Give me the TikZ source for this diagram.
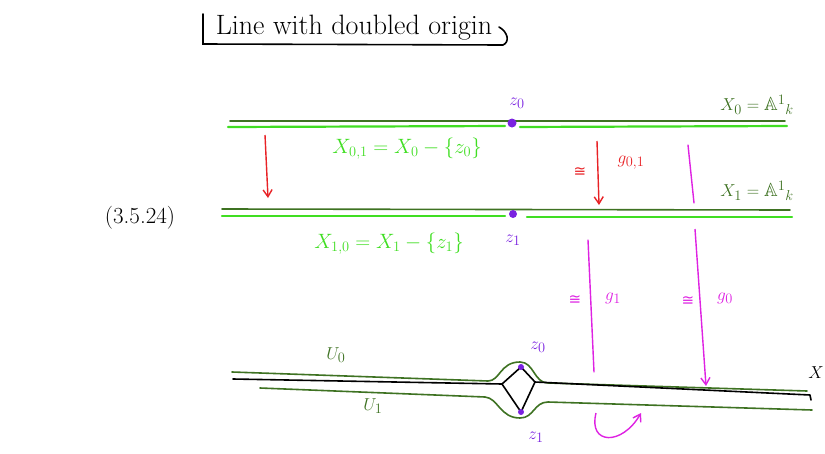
\documentclass[tikz,border=0pt]{standalone}
\usepackage{amsmath}
\usepackage{amssymb}
\usepackage{fontspec}
\usepackage{tikz}
\usetikzlibrary{arrows.meta}
\newfontfamily\isofont{DejaVu Sans}
\definecolor{darkgrn}{RGB}{62,114,34}
\definecolor{litegrn}{RGB}{64,222,34}
\definecolor{ptviolet}{RGB}{122,34,224}
\definecolor{mapmag}{RGB}{222,34,226}
\definecolor{mapred}{RGB}{232,34,38}

\begin{document}
\begin{tikzpicture}[
    x=1pt, y=-1pt,
    every node/.style={font=\fontsize{19}{22}\selectfont},
    biglbl/.style={font=\fontsize{21}{25}\selectfont},
    isolbl/.style={font=\isofont\fontsize{15}{18}\selectfont},
    space/.style={darkgrn, line width=1.6pt, line cap=round},
    open/.style={litegrn, line width=2.2pt, line cap=round},
    glue/.style={black, line width=1.6pt, line cap=round, line join=round},
    pt/.style={circle, fill=ptviolet, inner sep=0pt, minimum size=9pt},
    tinypt/.style={circle, fill=ptviolet, inner sep=0pt, minimum size=6pt},
    map/.style={-{Straight Barb[length=7pt,width=9pt]}, line width=1.4pt},
]
\useasboundingbox (0,0) rectangle (825,453);

%% Titel mit Klammer
\node[font=\fontsize{28}{32}\selectfont] (title) at (354,28) {Line with doubled origin};
\draw[line width=1.6pt, line cap=round] (203,14) -- (203,44) -- (503,45)
    .. controls (510,42) and (508,32) .. (499,27);
\node[font=\fontsize{23}{27}\selectfont] (eqno) at (140,218) {(3.5.24)};

%% obere Geraden X_0, X_1
\draw[space] (230,121) -- (785,121);
\draw[open]  (228,127) -- (505,126);
\draw[open]  (520,127) -- (787,126);
\draw[space] (222,209) -- (790,210);
\draw[open]  (222,216) -- (505,216);
\draw[open]  (527,217) -- (792,217);

\node[pt]     (z0) at (512,123) {};
\node[tinypt, minimum size=8pt] (z1) at (513,214) {};
\node[text=ptviolet] (z0lbl) at (517,103) {$z_0$};
\node[text=ptviolet] (z1lbl) at (513,240) {$z_1$};

\node[text=darkgrn] (X0lbl) at (757,105) {$X_0 = {\mathbb{A}^1}_k$};
\node[text=darkgrn] (X1lbl) at (757,191) {$X_1 = {\mathbb{A}^1}_k$};
\node[text=litegrn, biglbl] (X01lbl) at (407,149) {$X_{0,1} = X_0 - \{z_0\}$};
\node[text=litegrn, biglbl] (X10lbl) at (389,244) {$X_{1,0} = X_1 - \{z_1\}$};

%% Abbildungen
\coordinate (incA) at (265,135);
\coordinate (incB) at (268,198);
\draw[map, mapred] (incA) -- (incB);

\coordinate (g01a) at (597,141);
\coordinate (g01b) at (599,205);
\draw[map, mapred] (g01a) -- (g01b);
\node[text=mapred, isolbl] (iso01) at (580,172) {≅};
\node[text=mapred] (g01lbl) at (631,163) {$g_{0,1}$};

\coordinate (g0top) at (688,145);
\coordinate (g0mid) at (694,203);
\coordinate (g0a) at (695,229);
\coordinate (g0b) at (706,386);
\draw[mapmag, line width=1.4pt, line cap=round] (g0top) -- (g0mid);
\draw[map, mapmag] (g0a) -- (g0b);
\node[text=mapmag, isolbl] (iso0) at (688,301) {≅};
\node[text=mapmag] (g0lbl) at (725,298) {$g_0$};

\coordinate (g1a) at (588,240);
\coordinate (g1b) at (594,372);
\draw[mapmag, line width=1.4pt, line cap=round] (g1a) -- (g1b);
\node[text=mapmag, isolbl] (iso1) at (575,300) {≅};
\node[text=mapmag] (g1lbl) at (613,298) {$g_1$};

%% Gerade mit doppeltem Ursprung
\coordinate (dl) at (502,384);
\coordinate (dt) at (521,367);
\coordinate (dr) at (535,382);
\coordinate (db) at (521,412);
\draw[space] (232,372) -- (488,381) .. controls (500,381) and (500,362) .. (520,362)
    .. controls (534,362) and (534,383) .. (548,383) -- (807,391);
\draw[space] (260,388) -- (485,397) .. controls (498,398) and (500,418) .. (520,418)
    .. controls (534,418) and (534,402) .. (548,402) -- (812,410);
\draw[glue] (233,379) -- (dl);
\draw[glue] (dl) -- (dt) -- (dr) -- (db) -- cycle;
\draw[glue] (dr) -- (810,395) -- (811,400);
\node[tinypt] (u0pt) at (dt) {};
\node[tinypt] (u1pt) at (db) {};
\node[text=ptviolet] (z0b) at (538,347) {$z_0$};
\node[text=ptviolet] (z1b) at (536,437) {$z_1$};
\node[text=darkgrn] (U0lbl) at (336,355) {$U_0$};
\node[text=darkgrn] (U1lbl) at (373,406) {$U_1$};
\node[anchor=east, inner sep=1pt] (Xlbl) at (825,373) {$X$};

\coordinate (swA) at (596,413);
\coordinate (swB) at (641,413);
\draw[map, mapmag] (swA) .. controls (588,445) and (622,446) .. (swB);

\end{tikzpicture}
\end{document}
